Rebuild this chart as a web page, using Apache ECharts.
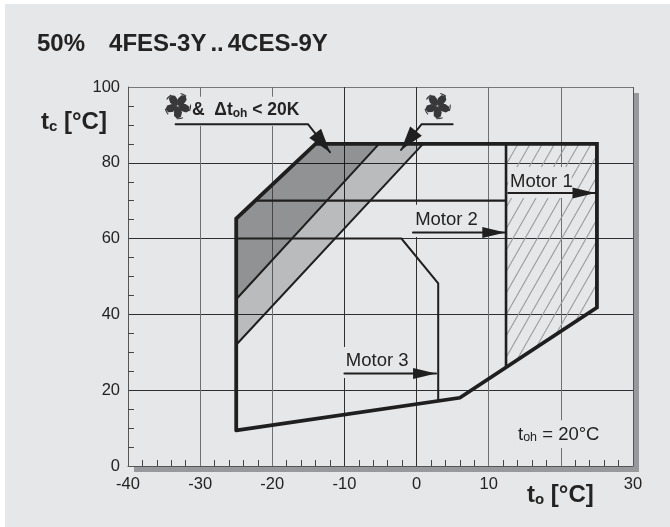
<!DOCTYPE html>
<html><head><meta charset="utf-8">
<style>html,body{margin:0;padding:0;background:#fff}#bg{position:absolute;left:5px;top:4px;width:665px;height:523px;background:#e6e7e9}#c{position:absolute;left:0;top:0;width:670px;height:527px}</style>
<script src="https://cdn.jsdelivr.net/npm/echarts@6/dist/echarts.min.js"></script>
</head><body><div id="bg"></div><div id="c"></div>
<script>
const xTicks = [-40, 30];
const hiddenXLabels = [20];
const yRange = [0, 100];
const envelope = [[-25, 9.4], [-25, 65.3], [-14, 85], [25, 85], [25, 41.8], [6, 18], [-25, 9.4]];
const darkZone = [[-25, 65.3], [-14, 85], [-5.2, 85], [-25, 44]];
const midZone = [[-25, 44], [-5.2, 85], [0.9, 85], [-25, 32]];
const hatchZone = [[12.4, 85], [25, 85], [25, 41.8], [12.4, 26.4]];
const motor1Line = [[-22.2, 70], [12.4, 70]];
const motor1Edge = [[12.4, 85], [12.4, 26.4]];
const motor3Line = [[-25, 60], [-2.1, 60], [3, 48.2], [3, 17.4]];
const boundA = [[-25, 44], [-5.2, 85]];
const boundB = [[-25, 32], [0.9, 85]];
const arrowM1 = [[12.7, 72], [24.8, 72]];
const arrowM2 = [[-0.5, 61.6], [12.3, 61.6]];
const arrowM3 = [[-10, 24.4], [2.7, 24.4]];
const leaderA = [[-33.4, 90.2], [-15.05, 90.2], [-12, 82.8]];
const leaderB = [[5, 90.2], [0.7, 90.2], [-2.15, 83.4]];
const masks = [
  [-34.9, 97.4, -16.2, 89.7],
  [12.7, 78.9, 21.5, 70.7],
  [-0.6, 68.9, 8.8, 60.4],
  [-10.2, 31.4, -0.6, 23.2],
  [13.6, 12.1, 26.1, 4.75]
];
const fans = [[-33.1, 95], [2.9, 95]];
const motorLabels = [['Motor 1', 12.95, 72.4], ['Motor 2', -0.2, 62.3], ['Motor 3', -9.8, 25.2]];

const FONT = '"Liberation Sans", Arial, sans-serif';
const BG = '#e6e7e9', INK = '#232323';
const dark = '#2f2f2f', soft = '#6f7072', fanInk = '#38383a';

function polygonSeries(points, fill, z) {
  return { type: 'custom', coordinateSystem: 'cartesian2d', data: points, z, silent: true,
    encode: { x: 0, y: 1 },
    renderItem(p, api) {
      if (p.dataIndex !== 0) return null;
      return { type: 'polygon', shape: { points: points.map(q => api.coord(q)) }, style: { fill } };
    } };
}
function lineSeries(points, width, z) {
  return { type: 'line', data: points, symbol: 'none', z, silent: true, clip: false, animation: false,
    lineStyle: { color: '#1f1f1f', width, cap: 'round', join: 'miter' } };
}
function headSeries(seg, len, half) {
  return { type: 'custom', coordinateSystem: 'cartesian2d', data: seg, z: 8, silent: true, encode: { x: 0, y: 1 },
    renderItem(p, api) {
      if (p.dataIndex !== 0) return null;
      const a = api.coord(seg[seg.length - 2]), b = api.coord(seg[seg.length - 1]);
      const d = Math.hypot(b[0] - a[0], b[1] - a[1]), ux = (b[0] - a[0]) / d, uy = (b[1] - a[1]) / d;
      const bx = b[0] - ux * len, by = b[1] - uy * len;
      return { type: 'polygon', shape: { points: [b, [bx - uy * half, by + ux * half], [bx + uy * half, by - ux * half]] }, style: { fill: '#1f1f1f' } };
    } };
}
const hatchSeries = { type: 'custom', coordinateSystem: 'cartesian2d', data: hatchZone, z: 3, silent: true, encode: { x: 0, y: 1 },
  renderItem(p, api) {
    if (p.dataIndex !== 0) return null;
    const pts = hatchZone.map(q => api.coord(q));
    const L = pts[0][0], T = pts[0][1], R = pts[1][0], B = pts[3][1];
    const kids = [], slope = 0.57, pitch = 12.2;
    for (let x = L - 200; x < R + 200; x += pitch) {
      kids.push({ type: 'line', shape: { x1: x + slope * (B - T), y1: T, x2: x, y2: B }, style: { stroke: '#999b9e', lineWidth: 1.1 } });
    }
    return { type: 'group', children: kids, clipPath: { type: 'polygon', shape: { points: pts } } };
  } };
const maskSeries = { type: 'custom', coordinateSystem: 'cartesian2d', data: masks, z: 4, silent: true, clip: false, encode: { x: [0, 2], y: [1, 3] },
  renderItem(p, api) {
    const m = masks[p.dataIndex], a = api.coord([m[0], m[1]]), b = api.coord([m[2], m[3]]);
    return { type: 'rect', shape: { x: a[0], y: a[1], width: b[0] - a[0], height: b[1] - a[1] }, style: { fill: BG } };
  } };
const bladeShape = [[0, 0], [-1.5, -4], [-1, -8], [2, -11.5], [6, -11], [7.5, -7.5], [5.5, -3], [0, 0]];
function fanChildren() {
  const kids = [];
  for (let i = 0; i < 5; i++) {
    const r = i * 2 * Math.PI / 5 + 0.2, c = Math.cos(r), s = Math.sin(r);
    kids.push({ type: 'polygon', shape: { points: bladeShape.map(q => [q[0] * c - q[1] * s, q[0] * s + q[1] * c]) }, style: { fill: fanInk } });
    kids.push({ type: 'arc', shape: { cx: 0, cy: 0, r: 12.8, startAngle: r - 0.3, endAngle: r + 0.2 }, style: { fill: 'none', stroke: fanInk, lineWidth: 1.1 } });
  }
  kids.push({ type: 'circle', shape: { cx: 0, cy: 0, r: 1 }, style: { fill: '#9a9b9e' } });
  return kids;
}
const fanSeries = { type: 'custom', coordinateSystem: 'cartesian2d', data: fans, z: 9, silent: true, encode: { x: 0, y: 1 },
  renderItem(p, api) {
    const c = api.coord(fans[p.dataIndex]);
    return { type: 'group', x: c[0], y: c[1], children: fanChildren() };
  } };
const labelSeries = { type: 'custom', coordinateSystem: 'cartesian2d', data: motorLabels.map(m => [m[1], m[2]]), z: 9, silent: true, encode: { x: 0, y: 1 },
  renderItem(p, api) {
    const m = motorLabels[p.dataIndex], c = api.coord([m[1], m[2]]);
    return { type: 'text', x: c[0], y: c[1], style: { text: m[0], font: '18.5px ' + FONT, fill: INK, textAlign: 'left', textVerticalAlign: 'bottom' } };
  } };

const chart = echarts.init(document.getElementById('c'), null, { renderer: 'canvas' });
chart.setOption({
  animation: false,
  title: { text: '50%   \u200A\u200A4FES-3Y\u200A\u200A..\u200A\u200A4CES-9Y', left: 37, top: 32, padding: 0,
    textStyle: { fontFamily: FONT, fontSize: 24, fontWeight: 'bold', color: INK } },
  grid: { left: 128, top: 87, width: 505, height: 379, show: true, backgroundColor: BG, borderWidth: 0,
    shadowColor: '#98999c', shadowBlur: 0, shadowOffsetX: 6, shadowOffsetY: 6 },
  xAxis: { type: 'value', min: xTicks[0], max: xTicks[1], interval: 10,
    axisLine: { onZero: false, lineStyle: { color: '#555', width: 1 } },
    axisTick: { show: false, inside: true },
    minorTick: { show: true, splitNumber: 5, length: 6, lineStyle: { color: '#444', width: 1 } },
    axisLabel: { margin: 10, fontFamily: FONT, fontSize: 16.5, color: INK,
      formatter: v => hiddenXLabels.includes(v) ? '' : String(v) },
    splitLine: { show: true, lineStyle: { width: 1, color: [dark, soft, soft, dark, dark, soft, soft, '#555'] } } },
  yAxis: { type: 'value', min: yRange[0], max: yRange[1], interval: 20,
    axisLine: { onZero: false, show: true, lineStyle: { color: '#555', width: 1 } },
    axisTick: { show: false, inside: true },
    minorTick: { show: true, splitNumber: 4, length: 6, lineStyle: { color: '#444', width: 1 } },
    axisLabel: { margin: 8, fontFamily: FONT, fontSize: 16.5, color: INK, padding: [3, 0, 0, 0] },
    splitLine: { show: true, lineStyle: { width: 1, color: [dark, dark, dark, dark, dark, '#777'] } } },
  graphic: [
    { type: 'text', left: 41, top: 110, z: 20, style: { text: '{a|t}{b|c}{a| [°C]}', rich: {
      a: { font: 'bold 24px ' + FONT, fill: INK }, b: { font: 'bold 15px ' + FONT, fill: INK, verticalAlign: 'bottom', padding: [9, 0, 0, 0] } } } },
    { type: 'text', left: 527, top: 483, z: 20, style: { text: '{a|t}{b|o}{a| [°C]}', rich: {
      a: { font: 'bold 24px ' + FONT, fill: INK }, b: { font: 'bold 15px ' + FONT, fill: INK, verticalAlign: 'bottom', padding: [9, 0, 0, 0] } } } },
    { type: 'text', left: 192, top: 101, z: 20, style: { text: '{a|&  Δt}{b|oh}{a| < 20K}', rich: {
      a: { font: 'bold 17.5px ' + FONT, fill: INK }, b: { font: 'bold 12px ' + FONT, fill: INK, verticalAlign: 'bottom', padding: [7, 0, 0, 0] } } } },
    { type: 'text', left: 518, top: 425, z: 20, style: { text: '{a|t}{b|oh}{a| = 20°C}', rich: {
      a: { font: '18.5px ' + FONT, fill: INK }, b: { font: '12.5px ' + FONT, fill: INK, verticalAlign: 'bottom', padding: [7, 0, 0, 0] } } } }
  ],
  series: [
    polygonSeries(darkZone, 'rgba(0,0,0,0.37)', 2),
    polygonSeries(midZone, 'rgba(0,0,0,0.19)', 2),
    hatchSeries,
    maskSeries,
    lineSeries(boundA, 2, 5), lineSeries(boundB, 2, 5),
    lineSeries(motor3Line, 2, 5), lineSeries(motor1Line, 2.2, 5), lineSeries(motor1Edge, 2.6, 5),
    lineSeries(envelope, 3.8, 6),
    lineSeries(arrowM1, 2, 7), lineSeries(arrowM2, 2, 7), lineSeries(arrowM3, 2, 7),
    lineSeries(leaderA, 2, 7), lineSeries(leaderB, 2, 7),
    headSeries(arrowM1, 23, 5.5), headSeries(arrowM2, 23, 5.5), headSeries(arrowM3, 23, 5.5),
    headSeries(leaderA, 24, 7.5), headSeries(leaderB, 24, 7.5),
    fanSeries, labelSeries
  ]
});
</script></body></html>
